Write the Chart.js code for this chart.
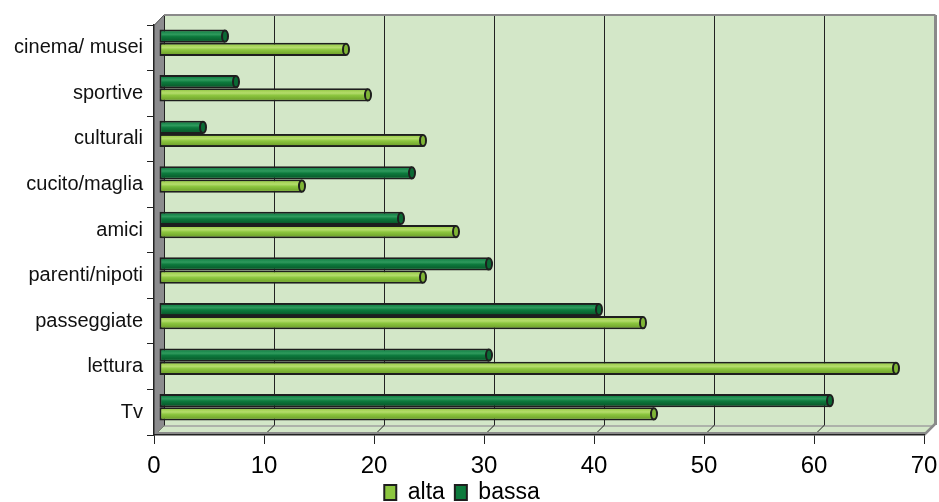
<!DOCTYPE html>
<html>
<head>
<meta charset="utf-8">
<script src="https://cdn.jsdelivr.net/npm/chart.js@4/dist/chart.umd.min.js"></script>
<style>
html,body{margin:0;padding:0;background:#fff;}
canvas{display:block;}
</style>
</head>
<body>
<canvas id="c" width="939" height="502"></canvas>
<script>
// Categories listed bottom-to-top (axis is reversed so the first is at the bottom)
const categories = ['Tv','lettura','passeggiate','parenti/nipoti','amici','cucito/maglia','culturali','sportive','cinema/ musei'];
const seriesNames = ['alta','bassa'];
const alta  = [45, 67, 44, 24, 27, 13, 24, 19, 17];
const bassa = [61, 30, 40, 30, 22, 23,  4,  7,  6];
const xMin = 0, xMax = 70, xStep = 10;

const FONT = "'Liberation Sans', Arial, Helvetica, sans-serif";
const DEPTH = 10;
const WALL = '#d3e7c8';
const SIDE = '#8c8c8e';
const EDGE = '#8a8a8a';

const palAlta  = {base:'#8cc63f', stops:[[0,'#9fd04e'],[0.3,'#b4dc6c'],[0.55,'#8cc63f'],[1,'#72a52d']], cap:'#7fb536'};
const palBassa = {base:'#0d7a3d', stops:[[0,'#158448'],[0.3,'#2f9a5d'],[0.55,'#0d7a3d'],[1,'#095c2c']], cap:'#0b6a34'};

const box3d = {
  id: 'box3d',
  afterLayout(chart) {
    // let the x tick labels extend below the axis box without being clipped
    const x = chart.scales.x;
    x.bottom = chart.height;
  },
  beforeDraw(chart) {
    const {ctx, chartArea: a, scales: {x}} = chart;
    const d = DEPTH;
    ctx.save();
    ctx.fillStyle = WALL;
    ctx.fillRect(a.left + d, a.top - d, a.right - a.left, a.bottom - a.top);
    // floor
    ctx.beginPath();
    ctx.moveTo(a.left, a.bottom);
    ctx.lineTo(a.left + d, a.bottom - d);
    ctx.lineTo(a.right + d, a.bottom - d);
    ctx.lineTo(a.right, a.bottom);
    ctx.closePath();
    ctx.fillStyle = WALL;
    ctx.fill();
    ctx.strokeStyle = '#a0a0a0';
    ctx.lineWidth = 1.5;
    ctx.beginPath();
    ctx.moveTo(a.left + d, a.bottom - d + 1);
    ctx.lineTo(a.right + d, a.bottom - d + 1);
    ctx.stroke();
    // grid lines on back wall + floor
    ctx.strokeStyle = '#222';
    ctx.lineWidth = 1;
    x.ticks.forEach(t => {
      const px = Math.round(x.getPixelForValue(t.value)) + 0.5;
      ctx.beginPath();
      ctx.moveTo(px + d, a.top - d);
      ctx.lineTo(px + d, a.bottom - d);
      ctx.moveTo(px, a.bottom);
      ctx.lineTo(px + d, a.bottom - d);
      ctx.stroke();
    });
    // floor front thickness band
    ctx.fillStyle = EDGE;
    ctx.beginPath();
    ctx.moveTo(a.left, a.bottom);
    ctx.lineTo(a.left + 3, a.bottom - 3);
    ctx.lineTo(a.right + 3, a.bottom - 3);
    ctx.lineTo(a.right, a.bottom);
    ctx.closePath();
    ctx.fill();
    ctx.strokeStyle = EDGE;
    ctx.lineWidth = 2.5;
    ctx.beginPath();
    ctx.moveTo(a.right, a.bottom);
    ctx.lineTo(a.right + d + 1, a.bottom - d - 1);
    ctx.stroke();
    // back wall top & right edges
    ctx.lineWidth = 2;
    ctx.beginPath();
    ctx.moveTo(a.left + d, a.top - d);
    ctx.lineTo(a.right + d + 1.5, a.top - d);
    ctx.stroke();
    ctx.lineWidth = 3;
    ctx.beginPath();
    ctx.moveTo(a.right + d + 1.5, a.top - d);
    ctx.lineTo(a.right + d + 1.5, a.bottom - d);
    ctx.stroke();
    // left side wall
    ctx.beginPath();
    ctx.moveTo(a.left, a.top);
    ctx.lineTo(a.left + d, a.top - d);
    ctx.lineTo(a.left + d, a.bottom - d);
    ctx.lineTo(a.left, a.bottom);
    ctx.closePath();
    ctx.fillStyle = SIDE;
    ctx.fill();
    ctx.strokeStyle = '#555';
    ctx.lineWidth = 1;
    ctx.beginPath();
    ctx.moveTo(a.left - 7, a.top + 0.5);
    ctx.lineTo(a.left, a.top + 0.5);
    ctx.lineTo(a.left + d, a.top - d);
    ctx.stroke();
    ctx.restore();
  },
  beforeDatasetsDraw(chart) {
    chart.ctx.save();
    chart.ctx.translate(DEPTH / 2, -DEPTH / 2);
  },
  afterDatasetsDraw(chart) {
    const ctx = chart.ctx;
    chart.data.datasets.forEach((ds, i) => {
      const meta = chart.getDatasetMeta(i);
      const pal = ds.pal;
      meta.data.forEach(el => {
        const {x, y, base, height} = el.getProps(['x', 'y', 'base', 'height'], true);
        const top = y - height / 2, bot = y + height / 2;
        const bw = 2;
        const g = ctx.createLinearGradient(0, top + bw, 0, bot - bw);
        pal.stops.forEach(s => g.addColorStop(s[0], s[1]));
        ctx.fillStyle = g;
        ctx.fillRect(base + bw, top + bw, Math.max(0, x - base - 2 * bw), height - 2 * bw);
        ctx.beginPath();
        ctx.ellipse(x, y, 3, height / 2 - 1, 0, 0, Math.PI * 2);
        ctx.fillStyle = pal.cap;
        ctx.fill();
        ctx.lineWidth = 2;
        ctx.strokeStyle = '#1e1e1e';
        ctx.stroke();
      });
    });
    ctx.restore();
  }
};

new Chart(document.getElementById('c'), {
  type: 'bar',
  data: {
    labels: categories,
    datasets: [
      {label: seriesNames[1], data: bassa, pal: palBassa, backgroundColor: palBassa.base, borderColor: '#1e1e1e', borderWidth: 2, borderSkipped: false, barPercentage: 1, categoryPercentage: 0.58, clip: false},
      {label: seriesNames[0], data: alta, pal: palAlta, backgroundColor: palAlta.base, borderColor: '#1e1e1e', borderWidth: 2, borderSkipped: false, barPercentage: 1, categoryPercentage: 0.58, clip: false}
    ]
  },
  options: {
    indexAxis: 'y',
    responsive: false,
    animation: false,
    devicePixelRatio: 1,
    layout: {padding: {top: 25, right: 15, left: 0, bottom: -12}},
    plugins: {
      legend: {
        position: 'bottom',
        reverse: true,
        labels: {font: {size: 23, family: FONT}, color: '#000', boxWidth: 12, boxHeight: 15, padding: 10}
      },
      tooltip: {enabled: false}
    },
    scales: {
      x: {
        min: xMin, max: xMax,
        ticks: {stepSize: xStep, font: {size: 24, family: FONT}, color: '#000', padding: 8},
        grid: {drawOnChartArea: false, drawTicks: true, tickLength: 9, color: '#222', lineWidth: 1},
        border: {display: true, color: '#222', width: 1.5},
        afterFit: s => { s.height = 36; s.paddingLeft = 0; s.paddingRight = 0; }
      },
      y: {
        reverse: true,
        ticks: {font: {size: 20, family: FONT}, color: '#111', padding: 4},
        grid: {drawOnChartArea: false, drawTicks: true, tickLength: 7, color: '#222', offset: true},
        border: {display: true, color: '#222', width: 1.5},
        afterFit: s => { s.width = 154; s.paddingTop = 0; s.paddingBottom = 0; }
      }
    }
  },
  plugins: [box3d]
});
</script>
</body>
</html>
